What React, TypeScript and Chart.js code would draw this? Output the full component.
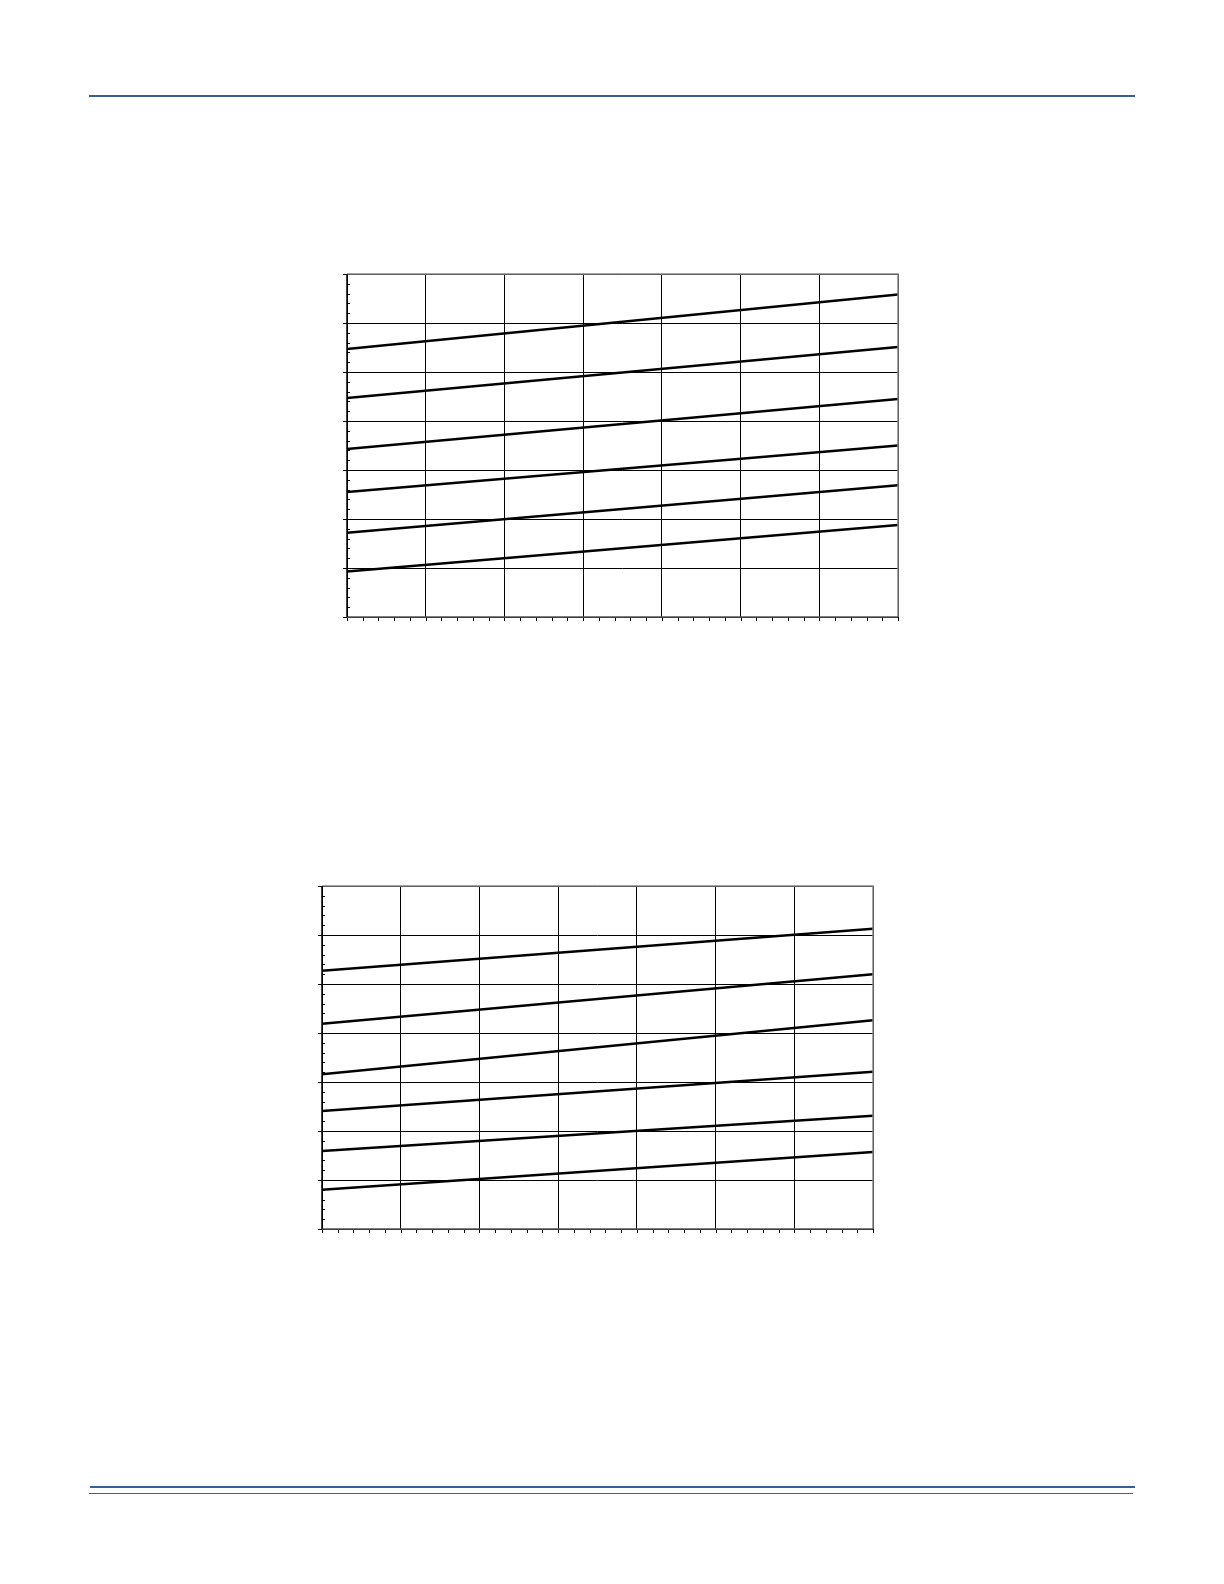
import React, { useRef, useEffect } from "react";
import { Chart, registerables } from "chart.js";

Chart.register(...registerables);

// x runs over seven grid columns, y over seven grid rows
const xEnds = [0, 7];
const axisMax = 7;

// upper chart: value of each line at the left and right edge
const upperStart = [5.47, 4.47, 3.43, 2.55, 1.72, 0.93];
const upperEnd = [6.58, 5.51, 4.45, 3.5, 2.69, 1.88];

// lower chart
const lowerStart = [5.27, 4.19, 3.16, 2.41, 1.59, 0.8];
const lowerEnd = [6.13, 5.2, 4.26, 3.21, 2.31, 1.57];

const PAD = 20;
const PLOT_W = 551;
const PLOT_H = 343;
const RULE = "#3a5e96";

const framePlugin = {
  id: "frameTicks",
  afterDraw(chart: any) {
    const { ctx, chartArea, scales } = chart;
    const { left, right, top, bottom } = chartArea;
    const xs = scales.x;
    const ys = scales.y;
    ctx.save();

    // minor + major ticks on the left axis
    ctx.strokeStyle = "#000";
    ctx.lineWidth = 1;
    for (let i = 0; i <= axisMax * 5; i++) {
      const py = Math.round(ys.getPixelForValue(i / 5)) + 0.5;
      ctx.beginPath();
      if (i % 5 === 0) {
        ctx.moveTo(left - 4, py);
        ctx.lineTo(left, py);
      } else {
        ctx.moveTo(left, py);
        ctx.lineTo(left + 3, py);
      }
      ctx.stroke();
    }
    // ticks under the bottom axis
    for (let i = 0; i <= axisMax * 5; i++) {
      const px = Math.round(xs.getPixelForValue(i / 5)) + 0.5;
      ctx.beginPath();
      ctx.moveTo(px, bottom);
      ctx.lineTo(px, bottom + 4);
      ctx.stroke();
    }

    // frame: grey top and right, black left, dark bottom
    ctx.lineWidth = 1.5;
    ctx.strokeStyle = "#858585";
    ctx.beginPath();
    ctx.moveTo(left, top);
    ctx.lineTo(right, top);
    ctx.lineTo(right, bottom);
    ctx.stroke();
    ctx.strokeStyle = "#555";
    ctx.beginPath();
    ctx.moveTo(left, bottom);
    ctx.lineTo(right, bottom);
    ctx.stroke();
    ctx.strokeStyle = "#000";
    ctx.beginPath();
    ctx.moveTo(left, top);
    ctx.lineTo(left, bottom);
    ctx.stroke();
    ctx.restore();
  },
};

interface PanelProps {
  left: number;
  top: number;
  starts: number[];
  ends: number[];
}

const LinePanel: React.FC<PanelProps> = ({ left, top, starts, ends }) => {
  const canvasRef = useRef<HTMLCanvasElement | null>(null);
  const chartRef = useRef<Chart | null>(null);

  useEffect(() => {
    if (chartRef.current) {
      chartRef.current.destroy();
    }
    if (!canvasRef.current) return;

    const datasets = starts.map((s, i) => ({
      data: [
        { x: xEnds[0], y: s },
        { x: xEnds[1], y: ends[i] },
      ],
      borderColor: "#000",
      borderWidth: 2.5,
      pointRadius: 0,
      fill: false,
    }));

    chartRef.current = new Chart(canvasRef.current, {
      type: "line",
      data: { datasets },
      options: {
        responsive: false,
        animation: false,
        layout: { padding: PAD },
        plugins: { legend: { display: false }, tooltip: { enabled: false } },
        scales: {
          x: {
            type: "linear",
            min: 0,
            max: axisMax,
            ticks: { display: false, stepSize: 1 },
            grid: { color: "#000", lineWidth: 1, drawTicks: false },
            border: { display: false },
          },
          y: {
            min: 0,
            max: axisMax,
            ticks: { display: false, stepSize: 1 },
            grid: { color: "#000", lineWidth: 1, drawTicks: false },
            border: { display: false },
          },
        },
      },
      plugins: [framePlugin],
    });

    return () => {
      if (chartRef.current) {
        chartRef.current.destroy();
        chartRef.current = null;
      }
    };
  }, [starts, ends]);

  return (
    <canvas
      ref={canvasRef}
      width={PLOT_W + PAD * 2}
      height={PLOT_H + PAD * 2}
      style={{
        position: "absolute",
        left: left - PAD,
        top: top - PAD,
        width: PLOT_W + PAD * 2,
        height: PLOT_H + PAD * 2,
      }}
    />
  );
};

export default function App() {
  return (
    <div
      style={{
        position: "absolute",
        left: 0,
        top: 0,
        width: 1224,
        height: 1584,
        background: "#fff",
      }}
    >
      <div style={{ position: "absolute", left: 89, top: 95, width: 1046, height: 2, background: RULE }} />
      <LinePanel left={347} top={274} starts={upperStart} ends={upperEnd} />
      <LinePanel left={322} top={886} starts={lowerStart} ends={lowerEnd} />
      <div style={{ position: "absolute", left: 90, top: 1486, width: 1045, height: 2, background: RULE }} />
      <div style={{ position: "absolute", left: 89, top: 1493, width: 1044, height: 1, background: RULE }} />
    </div>
  );
}
